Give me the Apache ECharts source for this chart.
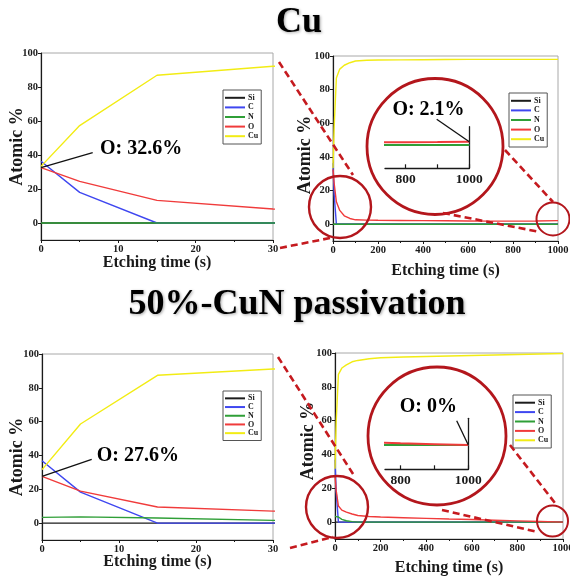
<!DOCTYPE html>
<html>
<head>
<meta charset="utf-8">
<script src="https://cdn.jsdelivr.net/npm/echarts@6/dist/echarts.min.js"></script>
<style>
  html, body { margin: 0; padding: 0; background: #fff; }
  #chart { width: 570px; height: 580px; }
</style>
</head>
<body>
<div id="chart"></div>
<script>
// XPS depth profiles: atomic % of each element versus Ar+ etching time
const elements = ['Si', 'C', 'N', 'O', 'Cu'];
const etchTime = [0, 5, 15, 30, 50, 75, 100, 150, 200, 300, 400, 500, 600, 700, 800, 900, 1000];

// Bare Cu
const cuSi = [0, 0, 0, 0, 0, 0, 0, 0, 0, 0, 0, 0, 0, 0, 0, 0, 0];
const cuC  = [36.3, 18.0, 0, 0, 0, 0, 0, 0, 0, 0, 0, 0, 0, 0, 0, 0, 0];
const cuN  = [0, 0, 0, 0, 0, 0, 0, 0, 0, 0, 0, 0, 0, 0, 0, 0, 0];
const cuO  = [32.6, 24.5, 13.3, 8.2, 5.0, 3.4, 2.6, 2.4, 2.3, 2.2, 2.1, 2.0, 1.9, 1.8, 1.8, 1.9, 2.1];
const cuCu = [33.3, 57.3, 86.9, 92.2, 94.5, 96.0, 97.0, 97.5, 97.6, 97.7, 97.8, 97.9, 98.0, 98.0, 98.0, 98.0, 98.0];

// 50%-CuN passivated Cu
const pSi = [0, 0, 0, 0, 0, 0, 0, 0, 0, 0, 0, 0, 0, 0, 0, 0, 0];
const pC  = [36.9, 18.3, 0, 0, 0, 0, 0, 0, 0, 0, 0, 0, 0, 0, 0, 0, 0];
const pN  = [3.4, 3.7, 3.0, 1.6, 0.8, 0.3, 0, 0, 0, 0, 0, 0, 0, 0, 0, 0, 0];
const pO  = [27.6, 18.9, 9.5, 7.1, 5.9, 4.8, 3.9, 3.3, 3.0, 2.6, 2.2, 1.8, 1.5, 1.1, 0.7, 0.35, 0];
const pCu = [31.6, 58.6, 87.4, 91.1, 93.0, 94.8, 95.6, 96.6, 97.2, 97.6, 97.9, 98.2, 98.5, 98.8, 99.1, 99.4, 99.7];

// Tick labels
const atomicTicks = [0, 20, 40, 60, 80, 100];
const zoomTicks = [800, 900, 1000];
const zoomLabels = [800, 1000];

const sampleCu = { Si: cuSi, C: cuC, N: cuN, O: cuO, Cu: cuCu };
const samplePass = { Si: pSi, C: pC, N: pN, O: pO, Cu: pCu };

const colors = { Si: '#1c1c1c', C: '#3f47f0', N: '#2f9f37', O: '#f03b3b', Cu: '#f2ec14' };
const serif = '"Liberation Serif", "Times New Roman", serif';
const ink = '#1a1a1a';
const plain = v => String(v);

const chart = echarts.init(document.getElementById('chart'));

// panels: 0 Cu 0-30 s, 1 Cu full, 2 CuN 0-30 s, 3 CuN full, 4/5 magnified tails
const panels = [
  { grid: { left: 41, top: 53, width: 232, height: 187 }, data: sampleCu, x: [0, 30, 10], xGap: 15, yGap: 15, yPad: [0, 0, 0, 0] },
  { grid: { left: 333, top: 56, width: 225, height: 185 }, data: sampleCu, x: [0, 1000, 200], xGap: 22, yGap: 19, yPad: [0, 13, 0, 0] },
  { grid: { left: 42, top: 354, width: 231, height: 186 }, data: samplePass, x: [0, 30, 10], xGap: 14, yGap: 16, yPad: [0, 20, 0, 0] },
  { grid: { left: 335, top: 353, width: 228, height: 186 }, data: samplePass, x: [0, 1000, 200], xGap: 21, yGap: 18, yPad: [0, 0, 0, 10] }
];
const insets = [
  { grid: { left: 385, top: 126.7, width: 84.3, height: 41.6 }, data: sampleCu, x: [735, 1000], y: [-14.8, 11.65] },
  { grid: { left: 385, top: 418.3, width: 83.3, height: 51 }, data: samplePass, x: [754, 1000], y: [-9.7, 10.7] }
];

const grids = [], xAxes = [], yAxes = [], series = [];

const labelStyle = { fontFamily: serif, fontWeight: 'bold', color: ink };

function addSeries(data, idx, width) {
  elements.forEach(el => {
    series.push({
      name: el,
      type: 'line',
      xAxisIndex: idx,
      yAxisIndex: idx,
      data: etchTime.map((t, i) => [t, data[el][i]]),
      symbol: 'none',
      clip: true,
      silent: true,
      lineStyle: { color: colors[el], width: width },
      itemStyle: { color: colors[el] }
    });
  });
}

panels.forEach((p, i) => {
  grids.push(Object.assign({ show: true, borderColor: '#a8a8a8', borderWidth: 1, backgroundColor: 'transparent', outerBoundsMode: 'none', containLabel: false }, p.grid));
  xAxes.push({
    type: 'value', gridIndex: i, min: p.x[0], max: p.x[1], interval: p.x[2],
    axisLine: { show: true, onZero: false, lineStyle: { color: ink, width: 1.2 } },
    axisTick: { show: true, length: 3, lineStyle: { color: ink } },
    minorTick: { show: true, splitNumber: 2, length: 2, lineStyle: { color: ink } },
    splitLine: { show: false },
    axisLabel: Object.assign({ fontSize: 10.5, margin: 4, formatter: plain }, labelStyle),
    name: 'Etching time (s)', nameLocation: 'middle', nameGap: p.xGap, nameMoveOverlap: false,
    nameTextStyle: Object.assign({ fontSize: 16 }, labelStyle)
  });
  yAxes.push({
    type: 'value', gridIndex: i, min: -10, max: 100, interval: 10,
    axisLine: { show: true, onZero: false, lineStyle: { color: ink, width: 1.2 } },
    axisTick: { show: true, length: 3, customValues: atomicTicks, lineStyle: { color: ink } },
    splitLine: { show: false },
    axisLabel: Object.assign({ fontSize: 10.5, margin: 3, customValues: atomicTicks, formatter: plain }, labelStyle),
    name: 'Atomic %', nameLocation: 'middle', nameGap: p.yGap, nameMoveOverlap: false,
    nameTextStyle: Object.assign({ fontSize: 18, padding: p.yPad }, labelStyle)
  });
  addSeries(p.data, i, 1.4);
});

insets.forEach((p, k) => {
  const i = panels.length + k;
  grids.push(Object.assign({ show: false, outerBoundsMode: 'none', containLabel: false }, p.grid));
  xAxes.push({
    type: 'value', gridIndex: i, min: p.x[0], max: p.x[1],
    axisLine: { show: true, onZero: false, lineStyle: { color: ink, width: 1.3 } },
    axisTick: { show: true, inside: true, length: 4, customValues: zoomTicks, lineStyle: { color: ink, width: 1.2 } },
    splitLine: { show: false },
    axisLabel: Object.assign({ fontSize: 13.5, margin: 4, customValues: zoomLabels, formatter: plain }, labelStyle)
  });
  yAxes.push({
    type: 'value', gridIndex: i, min: p.y[0], max: p.y[1], position: 'right',
    axisLine: { show: true, onZero: false, lineStyle: { color: ink, width: 1.3 } },
    axisTick: { show: false }, axisLabel: { show: false }, splitLine: { show: false }
  });
  addSeries(p.data, i, 2);
});

const legendPos = [
  { left: 223, top: 90, lh: 9.6 },
  { left: 509, top: 93, lh: 9.6 },
  { left: 223, top: 391, lh: 8.7 },
  { left: 513, top: 395, lh: 9.4 }
];
const legends = legendPos.map(l => ({
  left: l.left, top: l.top, orient: 'vertical', selectedMode: false,
  data: elements, icon: 'rect', itemWidth: 20, itemHeight: 2, itemGap: 0,
  padding: [3, 3, 3, 2], borderColor: '#555', borderWidth: 1, backgroundColor: '#fff',
  textStyle: Object.assign({ fontSize: 8, lineHeight: l.lh, padding: [0, 0, 0, -2] }, labelStyle)
}));

chart.setOption({
  animation: false,
  backgroundColor: '#fff',
  grid: grids, xAxis: xAxes, yAxis: yAxes, legend: legends, series: series
});

// ---- overlays: titles, magnifier circles, connectors and O call-outs ----
const titleStyle = {
  fill: '#000', fontFamily: serif, fontWeight: 'bold', fontSize: 36,
  align: 'center', verticalAlign: 'middle',
  textShadowColor: 'rgba(0,0,0,0.35)', textShadowBlur: 3, textShadowOffsetX: 1, textShadowOffsetY: 1
};
const ring = (cx, cy, r, w) => ({ type: 'circle', z: 100, shape: { cx, cy, r }, style: { fill: 'none', stroke: '#b3161c', lineWidth: w } });
const dash = (x1, y1, x2, y2) => ({ type: 'line', z: 100, shape: { x1, y1, x2, y2 }, style: { stroke: '#c51a1f', lineWidth: 2.6, lineDash: [7, 4] } });
const pointer = (a, b) => ({ type: 'line', z: 101, shape: { x1: a[0], y1: a[1], x2: b[0], y2: b[1] }, style: { stroke: '#111', lineWidth: 1.3 } });
const callout = (txt, x, y, align) => ({ type: 'text', z: 101, x, y, style: { text: txt, fill: '#000', fontFamily: serif, fontWeight: 'bold', fontSize: 20, align, verticalAlign: 'middle' } });

const px = (gi, pt) => chart.convertToPixel({ gridIndex: gi }, pt);
const last = arr => arr[arr.length - 1];

chart.setOption({
  graphic: { elements: [
    { type: 'text', z: 100, x: 299, y: 23, style: Object.assign({ text: 'Cu' }, titleStyle) },
    { type: 'text', z: 100, x: 297, y: 305, style: Object.assign({ text: '50%-CuN passivation' }, titleStyle) },

    ring(340, 207, 31, 2.4), ring(553, 219, 16.5, 2), ring(435, 146.5, 68, 2.8),
    dash(279, 62, 353, 175), dash(280, 248, 330, 238), dash(505, 150, 553, 202), dash(443, 213, 540, 232),

    ring(337, 507, 31, 2.4), ring(552.5, 521, 15.5, 2), ring(437, 436, 69, 2.8),
    dash(278, 357, 355, 477), dash(290, 548, 333, 537), dash(510, 445, 555, 503), dash(442, 510, 538, 532),

    pointer(px(0, [0, cuO[0]]), [92.7, 152.7]),
    callout('O: ' + cuO[0] + '%', 100, 148.5, 'left'),
    pointer(px(2, [0, pO[0]]), [91.7, 459.3]),
    callout('O: ' + pO[0] + '%', 96.7, 456, 'left'),
    pointer([436.7, 119.3], px(4, [1000, last(cuO)])),
    callout('O: ' + last(cuO) + '%', 428.5, 110, 'center'),
    pointer([456.7, 420.7], px(5, [1000, last(pO)])),
    callout('O: ' + last(pO) + '%', 428.3, 407.3, 'center')
  ] }
});
</script>
</body>
</html>
